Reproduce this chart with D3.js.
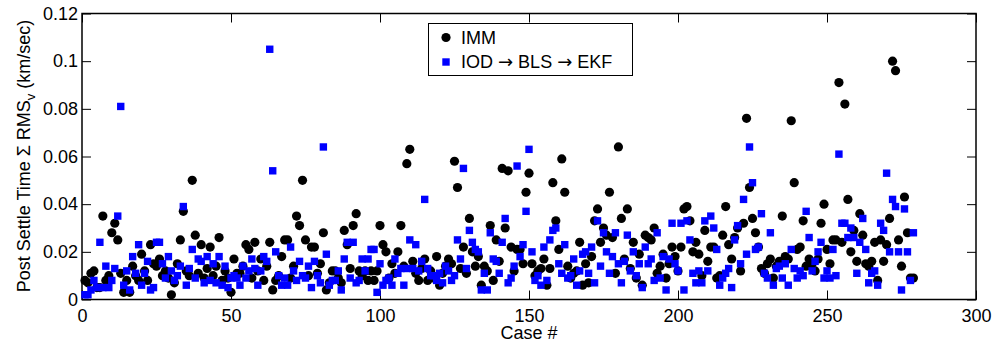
<!DOCTYPE html>
<html>
<head>
<meta charset="utf-8">
<script src="https://d3js.org/d3.v7.min.js"></script>
<style>
  body { margin: 0; background: #fff; }
  text { font-family: "Liberation Sans", Arial, Helvetica, sans-serif; }
  .axis path { display: none; }
  .axis line { stroke: #000; stroke-width: 1; }
  .axis text { font-size: 18px; fill: #000; }
  .arrow { font-family: "DejaVu Sans", sans-serif; }
</style>
</head>
<body>
<svg id="chart" width="994" height="342"></svg>
<script>

// case numbers 1..279
var cases = d3.range(1, 280);

// IMM (km/sec x 1e-3)
var imm = [
  8, 7, 11, 12, 5, 5, 35, 8, 10, 28, 32, 25, 11, 3, 8, 3, 14, 10, 8, 19,
  12, 8, 23, 15, 14, 17, 10, 12, 9, 2, 7, 15, 25, 37, 12, 10, 50, 27, 11, 23,
  9, 13, 22, 10, 14, 26, 8, 12, 9, 3, 17, 11, 11, 14, 23, 21, 9, 24, 12, 17,
  8, 14, 24, 4, 8, 10, 18, 25, 25, 9, 14, 35, 31, 50, 25, 10, 22, 22, 11, 15,
  28, 4, 7, 12, 12, 9, 7, 29, 23, 13, 31, 36, 12, 10, 12, 8, 12, 8, 12, 31,
  23, 20, 9, 15, 11, 20, 31, 14, 57, 63, 16, 11, 8, 13, 17, 8, 12, 9, 18, 6,
  11, 14, 17, 15, 58, 47, 13, 22, 11, 34, 20, 14, 18, 6, 14, 12, 31, 8, 25, 16,
  55, 30, 54, 22, 12, 21, 21, 15, 45, 53, 15, 10, 12, 13, 17, 6, 13, 49, 33, 21,
  59, 45, 14, 9, 11, 12, 24, 6, 15, 7, 18, 33, 38, 24, 30, 27, 45, 26, 11, 64,
  34, 17, 38, 13, 24, 9, 19, 6, 27, 26, 25, 30, 11, 14, 19, 9, 15, 22, 18, 12,
  22, 38, 39, 33, 20, 24, 19, 10, 29, 16, 22, 22, 9, 10, 27, 39, 23, 17, 26, 30,
  12, 32, 76, 47, 34, 28, 22, 13, 11, 15, 17, 9, 14, 16, 35, 18, 17, 75, 49, 21,
  22, 33, 14, 17, 15, 12, 17, 32, 40, 21, 15, 25, 25, 91, 24, 82, 42, 20, 29, 16,
  36, 27, 15, 14, 16, 24, 8, 25, 16, 23, 34, 100, 96, 25, 14, 43, 28, 9, 9
];

// IOD -> BLS -> EKF (km/sec x 1e-3)
var iod = [
  2, 2, 4, 8, 5, 24, 5, 14, 5, 8, 13, 35, 81, 6, 12, 4, 18, 11, 23, 6,
  11, 16, 4, 5, 24, 24, 15, 9, 18, 12, 8, 10, 14, 39, 6, 13, 21, 9, 17, 16,
  7, 18, 8, 15, 7, 18, 6, 14, 5, 9, 10, 9, 6, 14, 9, 12, 17, 13, 6, 12,
  18, 16, 105, 54, 20, 10, 6, 9, 6, 22, 12, 8, 16, 10, 9, 14, 5, 16, 10, 7,
  64, 19, 6, 8, 8, 12, 4, 17, 24, 9, 24, 7, 8, 17, 12, 17, 21, 21, 3, 15,
  6, 8, 9, 6, 17, 11, 13, 6, 13, 25, 13, 23, 12, 16, 42, 13, 10, 10, 8, 11,
  7, 14, 12, 8, 10, 25, 17, 55, 13, 29, 24, 21, 20, 4, 11, 4, 28, 17, 16, 11,
  24, 34, 7, 9, 14, 56, 18, 23, 37, 63, 20, 8, 10, 6, 22, 8, 25, 29, 30, 15,
  11, 23, 9, 10, 17, 6, 12, 19, 20, 11, 22, 7, 33, 14, 28, 20, 11, 18, 28, 15,
  7, 16, 27, 12, 20, 10, 15, 5, 22, 15, 17, 8, 28, 9, 18, 4, 17, 32, 15, 12,
  32, 4, 33, 25, 11, 7, 12, 7, 33, 12, 35, 30, 21, 6, 9, 11, 13, 5, 25, 31,
  15, 42, 19, 64, 49, 21, 22, 36, 11, 9, 28, 6, 13, 14, 9, 15, 6, 21, 13, 9,
  12, 10, 37, 26, 12, 16, 20, 24, 9, 12, 9, 21, 10, 61, 32, 32, 26, 30, 26, 11,
  24, 34, 21, 7, 11, 12, 6, 32, 29, 53, 20, 42, 39, 20, 4, 38, 20, 8, 28
];

var xTicks = [0, 50, 100, 150, 200, 250, 300];
var yTicks = [0, 0.02, 0.04, 0.06, 0.08, 0.1, 0.12];
var seriesNames = ["IMM", ["IOD ", "\u2192", " BLS ", "\u2192", " EKF"]];

var svg = d3.select("#chart");
var pLeft = 82, pRight = 976, pTop = 13.5, pBottom = 299.5;

var x = d3.scaleLinear().domain([0, 300]).range([pLeft, pRight]);
var y = d3.scaleLinear().domain([0, 0.12]).range([pBottom, pTop]);

var fmt = function(d) { return String(+d.toFixed(2)); };

svg.append("g").attr("class", "axis")
    .attr("transform", "translate(0," + pBottom + ")")
    .call(d3.axisBottom(x).tickValues(xTicks).tickSize(-9).tickPadding(9.5).tickFormat(fmt));
svg.append("g").attr("class", "axis")
    .attr("transform", "translate(0," + pTop + ")")
    .call(d3.axisTop(x).tickValues(xTicks).tickSize(-9).tickFormat(""));
svg.append("g").attr("class", "axis")
    .attr("transform", "translate(" + pLeft + ",0)")
    .call(d3.axisLeft(y).tickValues(yTicks).tickSize(-9).tickPadding(4).tickFormat(fmt));
svg.append("g").attr("class", "axis")
    .attr("transform", "translate(" + pRight + ",0)")
    .call(d3.axisRight(y).tickValues(yTicks).tickSize(-9).tickFormat(""));

svg.append("rect")
    .attr("x", pLeft).attr("y", pTop)
    .attr("width", pRight - pLeft).attr("height", pBottom - pTop)
    .attr("fill", "none").attr("stroke", "#000").attr("stroke-width", 1.5);

// IMM dots
svg.append("g").selectAll("circle")
    .data(cases)
    .enter().append("circle")
      .attr("cx", function(d) { return x(d); })
      .attr("cy", function(d, i) { return y(imm[i] / 1000); })
      .attr("r", 4.6)
      .attr("fill", "#000");

// IOD squares on top
var s = 7.4;
svg.append("g").selectAll("rect")
    .data(cases)
    .enter().append("rect")
      .attr("x", function(d) { return x(d) - s / 2; })
      .attr("y", function(d, i) { return y(iod[i] / 1000) - s / 2; })
      .attr("width", s).attr("height", s)
      .attr("fill", "#0000ff");

// labels
svg.append("text")
    .attr("x", 529).attr("y", 338.5)
    .attr("text-anchor", "middle")
    .attr("font-size", 18)
    .text("Case #");

var yl = svg.append("text")
    .attr("transform", "translate(30,156) rotate(-90)")
    .attr("text-anchor", "middle")
    .attr("font-size", 18);
yl.append("tspan").text("Post Settle Time \u03A3 RMS");
yl.append("tspan").attr("font-size", 13).attr("dy", 5).text("v");
yl.append("tspan").attr("dy", -5).text(" (km/sec)");

// legend
var lg = svg.append("g");
lg.append("rect")
    .attr("x", 428.5).attr("y", 23.5).attr("width", 204).attr("height", 52)
    .attr("fill", "#fff").attr("stroke", "#000").attr("stroke-width", 1);
lg.append("circle").attr("cx", 446).attr("cy", 37.5).attr("r", 4.6).attr("fill", "#000");
lg.append("rect").attr("x", 442.3).attr("y", 58.3).attr("width", s).attr("height", s).attr("fill", "#0000ff");
lg.append("text").attr("x", 461).attr("y", 43.5).attr("font-size", 18).text(seriesNames[0]);
lg.append("text").attr("x", 461).attr("y", 68).attr("font-size", 18)
  .selectAll("tspan").data(seriesNames[1]).enter().append("tspan")
    .attr("class", function(d) { return d === "\u2192" ? "arrow" : null; })
    .text(function(d) { return d; });

</script>
</body>
</html>
